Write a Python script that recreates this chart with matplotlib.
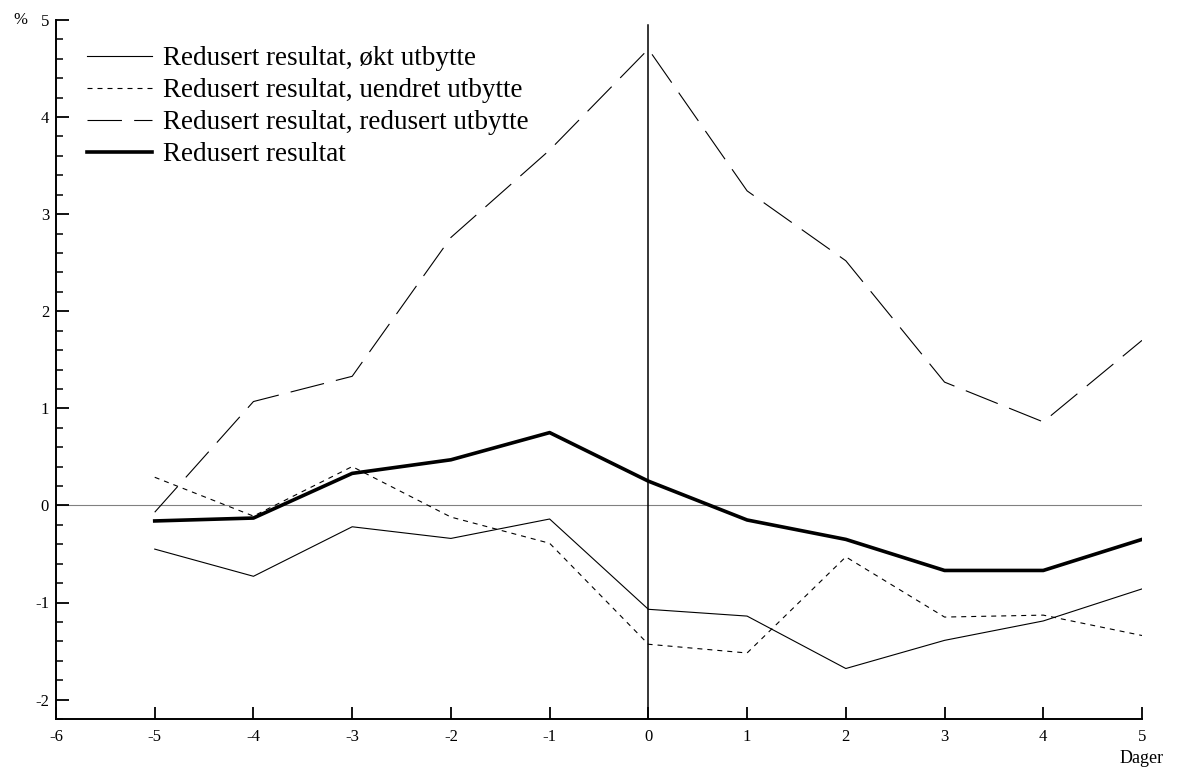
import matplotlib.pyplot as plt
from matplotlib.ticker import MultipleLocator

plt.rcParams['font.family'] = ['Liberation Serif', 'DejaVu Serif']
plt.rcParams['axes.unicode_minus'] = False

dager = [-5, -4, -3, -2, -1, 0, 1, 2, 3, 4, 5]

okt = [-0.45, -0.73, -0.22, -0.34, -0.14, -1.07, -1.14, -1.68, -1.39, -1.19, -0.86]
uendret = [0.29, -0.11, 0.40, -0.12, -0.39, -1.43, -1.52, -0.53, -1.15, -1.13, -1.34]
redusert_utb = [-0.07, 1.07, 1.33, 2.76, 3.66, 4.70, 3.24, 2.52, 1.27, 0.86, 1.70]
redusert = [-0.16, -0.13, 0.33, 0.47, 0.75, 0.25, -0.15, -0.35, -0.67, -0.67, -0.35]

labels = ['Redusert resultat, økt utbytte',
          'Redusert resultat, uendret utbytte',
          'Redusert resultat, redusert utbytte',
          'Redusert resultat']

W, H = 1177, 769
fig = plt.figure(figsize=(W / 100, H / 100), dpi=100)
ax = fig.add_axes([56 / W, 50 / H, (1142 - 56) / W, (719 - 20) / H])

ymin, ymax = -2.2, 5.0
ax.set_xlim(-6, 5)
ax.set_ylim(ymin, ymax)

ax.axhline(0, color='#808080', lw=0.8, zorder=1)
ax.axvline(0, ymax=(4.95 - ymin) / (ymax - ymin), color='black', lw=1.1, zorder=1)

l1, = ax.plot(dager, okt, color='black', lw=0.8)
l2, = ax.plot(dager, uendret, color='black', lw=0.8, dashes=(4.5, 4.5))
l3, = ax.plot(dager, redusert_utb, color='black', lw=0.8, dashes=(31, 11))
l4, = ax.plot(dager, redusert, color='black', lw=2.6)

for s in ['top', 'right']:
    ax.spines[s].set_visible(False)
for s in ['left', 'bottom']:
    ax.spines[s].set_linewidth(1.4)

ax.xaxis.set_major_locator(MultipleLocator(1))
ax.yaxis.set_major_locator(MultipleLocator(1))
ax.yaxis.set_minor_locator(MultipleLocator(0.2))
ax.tick_params(axis='both', which='major', direction='in', length=9, width=1.3,
               labelsize=12, pad=7)
ax.tick_params(axis='y', which='minor', direction='in', length=5, width=1.1)
ax.tick_params(axis='y', pad=5)

ax.text(-0.026, 1.0, '%', transform=ax.transAxes, fontsize=12,
        ha='right', va='center')
ax.text(1.0, -0.045, 'Dager', transform=ax.transAxes, fontsize=13,
        ha='center', va='top')

fig.legend([l1, l2, l3, l4], labels, loc='upper left',
           bbox_to_anchor=(87 / W, 1 - 46 / H), frameon=False,
           fontsize=19.5, handlelength=2.4, handletextpad=0.4,
           labelspacing=0.26, borderpad=0, borderaxespad=0)

fig.savefig('out.png', dpi=100)
